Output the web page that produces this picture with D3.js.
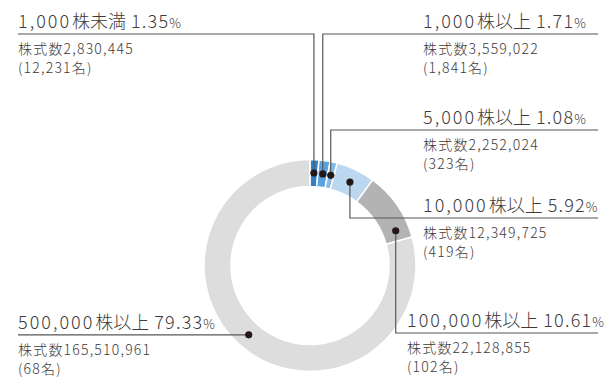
<!DOCTYPE html>
<html>
<head>
<meta charset="utf-8">
<script src="https://cdn.jsdelivr.net/npm/d3@7"></script>
<style>
  html, body { margin: 0; padding: 0; background: #fff; }
  svg { display: block; }
</style>
</head>
<body>
<div id="chart"></div>
<script>
// Shareholding distribution by number of shares held
const categories = ["1,000株未満", "1,000株以上", "5,000株以上", "10,000株以上", "100,000株以上", "500,000株以上"];
const percents = [1.35, 1.71, 1.08, 5.92, 10.61, 79.33];
const shareCounts = [2830445, 3559022, 2252024, 12349725, 22128855, 165510961];
const holders = [12231, 1841, 323, 419, 102, 68];
const colors = ["#2f80c4", "#5ba3dc", "#86bce8", "#bcd7f0", "#b3b3b3", "#dcdddc"];

const width = 604, height = 379;
const cx = 310, cy = 265.5;
const rInner = 79, rOuter = 106;
const lineColor = "#595757", textColor = "#3e3a39", dotColor = "#231815";
const fmt = d3.format(",");

// where each label sits and how its leader bends
const layout = [
  { side: "left",  lineY: 34,  dotAt: 0.5 },
  { side: "right", lineY: 34,  dotAt: 0.5, x: 423 },
  { side: "right", lineY: 130, dotAt: 0.5, x: 423 },
  { side: "right", lineY: 218, dotAt: 0.5, x: 423 },
  { side: "right", lineY: 333, dotAt: 0.83, x: 407 },
  { side: "left",  lineY: null, dotAt: 0.515 }
];

const svg = d3.select("#chart")
  .append("svg")
  .attr("width", width)
  .attr("height", height)
  .attr("viewBox", [0, 0, width, height])
  .style("font-family", "'Noto Sans CJK JP', 'Noto Sans', sans-serif");

const pie = d3.pie().sort(null).value(d => d);
const arcs = pie(percents);
const arc = d3.arc().innerRadius(rInner).outerRadius(rOuter);

const g = svg.append("g").attr("transform", `translate(${cx},${cy})`);
g.selectAll("path")
  .data(arcs)
  .enter()
  .append("path")
    .attr("d", arc)
    .attr("fill", (d, i) => colors[i])
    .attr("stroke", "#fff")
    .attr("stroke-width", 1.5);

// dot position on the ring for each slice
const rMid = (rInner + rOuter) / 2;
const dots = arcs.map((a, i) => {
  const ang = a.startAngle + (a.endAngle - a.startAngle) * layout[i].dotAt;
  return [cx + rMid * Math.sin(ang), cy - rMid * Math.cos(ang)];
});

// leader lines
layout.forEach((l, i) => {
  const [x, y] = dots[i];
  let pts;
  if (l.lineY === null) pts = [[x, y], [18, y]];
  else if (l.side === "left") pts = [[x, y], [x, l.lineY], [18, l.lineY]];
  else pts = [[x, y], [x, l.lineY], [598, l.lineY]];
  l.y = l.lineY === null ? y : l.lineY;
  if (l.side === "left") l.x = 18;
  svg.append("path")
    .attr("d", d3.line()(pts))
    .attr("fill", "none")
    .attr("stroke", lineColor)
    .attr("stroke-width", 1.2);
});

svg.selectAll("circle.dot")
  .data(dots)
  .enter()
  .append("circle")
    .attr("class", "dot")
    .attr("cx", d => d[0])
    .attr("cy", d => d[1])
    .attr("r", 3.6)
    .attr("fill", dotColor);

// labels
layout.forEach((l, i) => {
  const m = categories[i].match(/^([\d,]+)(.*)$/);
  const t = svg.append("text")
    .attr("x", l.x)
    .attr("y", l.y - 6)
    .attr("fill", textColor)
    .attr("font-size", 18)
    .attr("font-weight", 300);
  t.append("tspan").attr("letter-spacing", 2).text(m[1]);
  t.append("tspan").attr("dx", 1).text(m[2]);
  t.append("tspan").attr("dx", 5).attr("letter-spacing", 1.2).text(percents[i].toFixed(2));
  t.append("tspan").attr("font-size", 13).text("%");

  // share count, then number of holders
  svg.append("text")
    .attr("x", l.x)
    .attr("y", l.y + 20)
    .attr("fill", textColor)
    .attr("font-size", 14)
    .attr("font-weight", 300)
    .attr("letter-spacing", 1.2)
    .text("株式数" + fmt(shareCounts[i]));
  svg.append("text")
    .attr("x", l.x)
    .attr("y", l.y + 39)
    .attr("fill", textColor)
    .attr("font-size", 14)
    .attr("font-weight", 300)
    .attr("letter-spacing", 1.2)
    .text("(" + fmt(holders[i]) + "名)");
});
</script>
</body>
</html>
